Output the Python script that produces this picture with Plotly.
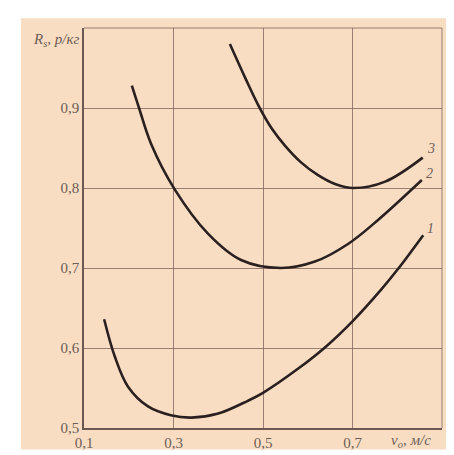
import plotly.graph_objects as go

# Data
curve1_x = [0.145, 0.169, 0.198, 0.243, 0.294, 0.34, 0.40, 0.466, 0.5, 0.578, 0.641, 0.701, 0.764, 0.802, 0.858]
curve1_y = [0.636, 0.589, 0.552, 0.527, 0.516, 0.513, 0.518, 0.534, 0.544, 0.574, 0.602, 0.634, 0.673, 0.699, 0.741]

curve2_x = [0.207, 0.223, 0.25, 0.303, 0.377, 0.451, 0.54, 0.616, 0.69, 0.757, 0.855]
curve2_y = [0.928, 0.900, 0.855, 0.798, 0.743, 0.710, 0.700, 0.708, 0.730, 0.760, 0.810]

curve3_x = [0.426, 0.460, 0.489, 0.52, 0.549, 0.585, 0.623, 0.661, 0.701, 0.773, 0.857]
curve3_y = [0.980, 0.938, 0.904, 0.874, 0.853, 0.832, 0.816, 0.805, 0.800, 0.808, 0.838]

curve_labels = ["1", "2", "3"]
label_x = [0.875, 0.873, 0.875]
label_y = [0.749, 0.818, 0.849]

x_tickvals = [0.1, 0.3, 0.5, 0.7]
x_ticktext = ["0,1", "0,3", "0,5", "0,7"]
y_tickvals = [0.5, 0.6, 0.7, 0.8, 0.9]
y_ticktext = ["0,5", "0,6", "0,7", "0,8", "0,9"]

x_title = "v<sub>o</sub>, м/с"
y_title = "R<sub>s</sub>, р/кг"

ink = "#2a2020"
grid = "rgba(120,95,85,0.75)"
axis_col = "#6b5850"
text_col = "#6d5d55"
peach = "#f9ddc3"
font_family = "Liberation Serif, DejaVu Serif, serif"

fig = go.Figure()
for xs, ys in [(curve1_x, curve1_y), (curve2_x, curve2_y), (curve3_x, curve3_y)]:
    fig.add_trace(go.Scatter(x=xs, y=ys, mode="lines",
                             line=dict(color=ink, width=2.6, shape="spline", smoothing=1.0),
                             hoverinfo="skip", showlegend=False))

for t, lx, ly in zip(curve_labels, label_x, label_y):
    fig.add_annotation(x=lx, y=ly, text=f"<i>{t}</i>", showarrow=False,
                       font=dict(family=font_family, size=14, color=text_col),
                       xanchor="center", yanchor="middle")

fig.add_annotation(x=0.83, y=0.5, yshift=-13, text=f"<i>{x_title}</i>", showarrow=False,
                   font=dict(family=font_family, size=15, color=text_col),
                   xanchor="center", yanchor="middle")
fig.add_annotation(x=0.1, y=0.985, xshift=-3, text=f"<i>{y_title}</i>", showarrow=False,
                   font=dict(family=font_family, size=15, color=text_col),
                   xanchor="right", yanchor="middle")

# scanned page background
fig.add_shape(type="rect", xref="paper", yref="paper", x0=-0.176, x1=1.031, y0=-0.054, y1=1.0245,
              fillcolor=peach, line=dict(width=0), layer="below")

fig.update_layout(
    width=454, height=455,
    margin=dict(l=76, r=20, t=20, b=27),
    paper_bgcolor="white",
    plot_bgcolor=peach,
    font=dict(family=font_family, size=14, color=text_col),
    xaxis=dict(range=[0.1, 0.9], tickvals=x_tickvals, ticktext=x_ticktext,
               showgrid=True, gridcolor=grid, gridwidth=1,
               zeroline=False, showline=True, linecolor=axis_col, linewidth=1.5,
               mirror=False, ticks="", ticklen=0,
               tickfont=dict(family=font_family, size=15, color=text_col)),
    yaxis=dict(range=[0.5, 1.0], tickvals=y_tickvals, ticktext=y_ticktext,
               showgrid=True, gridcolor=grid, gridwidth=1,
               zeroline=False, showline=True, linecolor=axis_col, linewidth=1.5,
               ticks="", ticklen=0,
               tickfont=dict(family=font_family, size=15, color=text_col)),
    showlegend=False,
)
# right and top frame lines
fig.add_shape(type="line", xref="paper", yref="paper", x0=1, x1=1, y0=0, y1=1,
              line=dict(color=grid, width=1))
fig.add_shape(type="line", xref="paper", yref="paper", x0=0, x1=1, y0=1, y1=1,
              line=dict(color=grid, width=1))

fig.write_html("out.html")
